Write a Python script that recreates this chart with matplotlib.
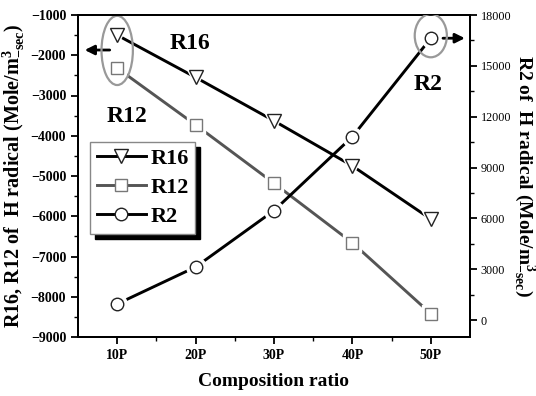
import matplotlib
matplotlib.use('Agg')
import matplotlib.pyplot as plt
from matplotlib.patches import Ellipse
from matplotlib.lines import Line2D
import numpy as np

categories = ['10P', '20P', '30P', '40P', '50P']
r16 = [-1500, -2550, -3630, -4750, -6070]
r12 = [-2320, -3730, -5180, -6660, -8420]
r2 = [950, 3130, 6460, 10820, 16630]

plt.rcParams['font.family'] = ['Liberation Serif', 'DejaVu Serif']
plt.rcParams['font.weight'] = 'bold'
plt.rcParams['mathtext.default'] = 'regular'

x = np.arange(1, len(categories) + 1)

fig = plt.figure(figsize=(5.36, 3.96), dpi=100)
ax = fig.add_axes([78/536, 1-337/396, 392/536, 322/396])
ax2 = ax.twinx()


def draw_series(a, y, color, edge, marker, ms):
    a.plot(x, y, color=color, lw=2.1, zorder=2, solid_capstyle='butt')
    a.plot(x, y, ls='none', marker=marker, ms=ms+5, mfc='white', mec='white', zorder=3)
    a.plot(x, y, ls='none', marker=marker, ms=ms, mfc='white', mec=edge, mew=1.0, zorder=4)


draw_series(ax, r16, 'black', '#222222', 'v', 10)
draw_series(ax, r12, '#555555', '#777777', 's', 8)
draw_series(ax2, r2, 'black', '#222222', 'o', 9)

ax.set_xlim(0.5, 5.5)
ax.set_ylim(-9000, -1000)
ax2.set_ylim(-1000, 18000)
ax.set_xticks(x)
ax.set_xticklabels(categories)
ax.set_xticks(np.arange(1.5, 5.5, 1), minor=True)
ax.set_yticks(np.arange(-9000, -999, 1000))
ax.set_yticks(np.arange(-8500, -1000, 1000), minor=True)
ax2.set_yticks(np.arange(0, 18001, 3000))
ax2.set_yticks(np.arange(1500, 18000, 3000), minor=True)

for a in (ax, ax2):
    a.tick_params(which='major', direction='out', length=5, width=1.3, labelsize=10)
    a.tick_params(which='minor', direction='out', length=3, width=1.0)
    for s in a.spines.values():
        s.set_linewidth(1.4)
ax2.tick_params(axis='y', labelsize=8.7, pad=2.5)
for lab in ax2.get_yticklabels():
    lab.set_fontweight('normal')

ax.set_xlabel('Composition ratio', fontsize=14, fontweight='bold', labelpad=8)
ax.set_ylabel('R16, R12 of  H radical (Mole/m$^{3}_{-sec}$)', fontsize=14.5,
              fontweight='bold', va='center')
ax2.set_ylabel('R2 of  H radical (Mole/m$^{3}_{-sec}$)', fontsize=14,
               fontweight='bold', rotation=270, va='center')
ax.yaxis.set_label_coords(-0.163, 0.5)
ax2.yaxis.set_label_coords(1.137, 0.5)

# ellipses marking the series and arrows toward their axes
ax.add_patch(Ellipse((x[0], (r16[0] + r12[0]) / 2 + 30), 0.40, 1720, fill=False,
                     ec='#999999', lw=1.6, zorder=5))
ax2.add_patch(Ellipse((x[-1], r2[-1] + 150), 0.41, 2550, fill=False,
                      ec='#999999', lw=1.6, zorder=5))
ax.annotate('', xy=(0.55, -1870), xytext=(0.94, -1870),
            arrowprops=dict(arrowstyle='-|>', color='black', lw=2, mutation_scale=14))
ax2.annotate('', xy=(5.47, r2[-1]), xytext=(5.12, r2[-1]),
             arrowprops=dict(arrowstyle='-|>', color='black', lw=2, mutation_scale=14))

ax.text(1.93, -1720, 'R16', fontsize=17, fontweight='bold', ha='center', va='center')
ax.text(1.125, -3510, 'R12', fontsize=17, fontweight='bold', ha='center', va='center')
ax2.text(4.96, 13870, 'R2', fontsize=17, fontweight='bold', ha='center', va='center')

handles = [
    Line2D([], [], color='black', lw=2.1, marker='v', ms=10, mfc='white', mec='#222222'),
    Line2D([], [], color='#555555', lw=2.1, marker='s', ms=8, mfc='white', mec='#777777'),
    Line2D([], [], color='black', lw=2.1, marker='o', ms=9, mfc='white', mec='#222222'),
]
leg = ax.legend(handles, ['R16', 'R12', 'R2'], loc='upper left',
                bbox_to_anchor=(0.031, 0.606), borderaxespad=0, fancybox=False,
                shadow={'color': 'black', 'alpha': 1, 'ox': 3.5, 'oy': -3.5},
                prop={'size': 16, 'weight': 'bold'}, handlelength=2.2,
                labelspacing=0.38, handletextpad=0.2, borderpad=0.3)
leg.get_frame().set_edgecolor('#888888')
leg.get_frame().set_linewidth(1.0)
leg.set_zorder(10)

fig.savefig('out.png', dpi=100)
